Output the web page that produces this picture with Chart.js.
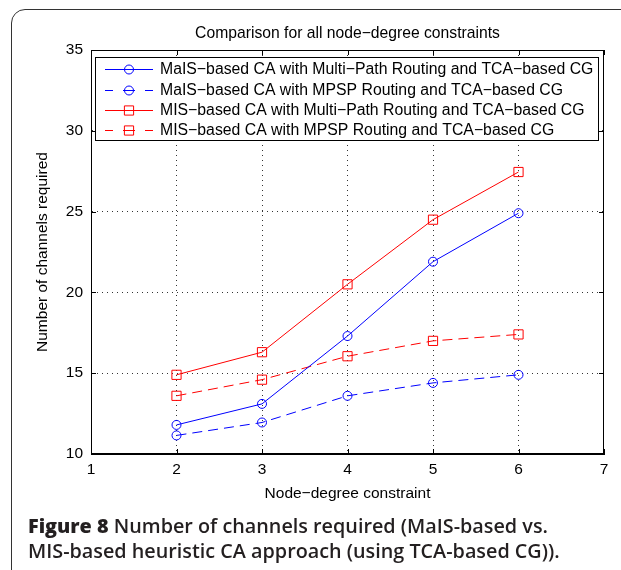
<!DOCTYPE html>
<html><head><meta charset="utf-8">
<script src="https://cdn.jsdelivr.net/npm/chart.js@4.4.0/dist/chart.umd.min.js"></script>
<style>
html,body{margin:0;padding:0;background:#fff;width:621px;height:570px;overflow:hidden;}
#frame{position:absolute;left:11px;top:9px;width:700px;height:580px;border:1.5px solid #333;border-radius:14px;box-sizing:border-box;}
#wrap{position:absolute;left:0;top:0;width:621px;height:570px;}
#caption{position:absolute;left:28px;top:513px;font-family:"Open Sans",sans-serif;font-size:19.8px;font-weight:600;line-height:25px;color:#231f20;white-space:nowrap;}
#caption b{font-weight:800;}
</style></head>
<body>
<div id="frame"></div>
<div id="wrap"><canvas id="c" width="621" height="570"></canvas></div>
<div id="caption"><b>Figure 8</b> Number of channels required (MaIS-based vs.<br>MIS-based heuristic CA approach (using TCA-based CG)).</div>
<script>
// ---- data ----
const nodeDegrees = [2, 3, 4, 5, 6];
const maisMultiPath = [11.8, 13.1, 17.3, 21.9, 24.9];
const maisMpsp = [11.15, 11.95, 13.6, 14.4, 14.9];
const misMultiPath = [14.9, 16.3, 20.5, 24.5, 27.45];
const misMpsp = [13.6, 14.6, 16.05, 17.0, 17.4];
const seriesLabels = [
  'MaIS\u2212based CA with Multi\u2212Path Routing and TCA\u2212based CG',
  'MaIS\u2212based CA with MPSP Routing and TCA\u2212based CG',
  'MIS\u2212based CA with Multi\u2212Path Routing and TCA\u2212based CG',
  'MIS\u2212based CA with MPSP Routing and TCA\u2212based CG'
];
const xTicks = [1, 2, 3, 4, 5, 6, 7];
const yTicks = [10, 15, 20, 25, 30, 35];
const chartTitle = 'Comparison for all node\u2212degree constraints';
const xTitle = 'Node\u2212degree constraint';
const yTitle = 'Number of channels required';

const FONT = '"Liberation Sans", Arial, Helvetica, sans-serif';
const pts = arr => nodeDegrees.map((x, i) => ({x, y: arr[i]}));
const DASH = [10, 6];

function mkDs(label, data, color, dashed, square) {
  return {
    label, data: pts(data),
    borderColor: color, backgroundColor: 'rgba(0,0,0,0)',
    borderWidth: 1, borderDash: dashed ? DASH : [],
    pointStyle: square ? 'rect' : 'circle',
    pointRadius: square ? 6.5 : 4.5,
    pointBorderWidth: 1, pointBorderColor: color, pointBackgroundColor: 'rgba(0,0,0,0)',
    tension: 0, fill: false
  };
}

const frameAndLegend = {
  id: 'frameAndLegend',
  afterDatasetsDraw(chart) {
    const ctx = chart.ctx, ca = chart.chartArea;
    const xs = chart.scales.x, ys = chart.scales.y;
    ctx.save();
    // title centred over the axes
    ctx.fillStyle = '#000'; ctx.font = '15.7px ' + FONT;
    ctx.textAlign = 'center'; ctx.textBaseline = 'alphabetic';
    ctx.fillText(chartTitle, (ca.left + ca.right) / 2, 38);
    // full axes box
    ctx.strokeStyle = '#000'; ctx.lineWidth = 1;
    ctx.strokeRect(Math.round(ca.left) + 0.5, Math.round(ca.top) + 0.5,
      Math.round(ca.right - ca.left) - 1, Math.round(ca.bottom - ca.top) - 1);
    // inward ticks
    ctx.beginPath();
    xTicks.forEach(v => {
      const px = Math.round(xs.getPixelForValue(v)) + 0.5;
      ctx.moveTo(px, ca.bottom); ctx.lineTo(px, ca.bottom - 5);
      ctx.moveTo(px, ca.top); ctx.lineTo(px, ca.top + 5);
    });
    yTicks.forEach(v => {
      const py = Math.round(ys.getPixelForValue(v)) + 0.5;
      ctx.moveTo(ca.left, py); ctx.lineTo(ca.left + 5, py);
      ctx.moveTo(ca.right, py); ctx.lineTo(ca.right - 5, py);
    });
    ctx.stroke();

    // legend
    const ds = chart.data.datasets;
    ctx.font = '15.8px ' + FONT;
    let maxW = 0;
    ds.forEach(d => { maxW = Math.max(maxW, ctx.measureText(d.label).width); });
    const left = Math.round(ca.left) + 4, top = Math.round(ca.top) + 7, rowH = 20.3;
    const textX = left + 65;
    const w = Math.round(textX + maxW + 5 - left), h = Math.round(rowH * ds.length + 2);
    ctx.fillStyle = '#fff'; ctx.fillRect(left, top, w, h);
    ctx.strokeStyle = '#000'; ctx.lineWidth = 1;
    ctx.strokeRect(left + 0.5, top + 0.5, w, h);
    ds.forEach((d, i) => {
      const y = Math.round(top + 12.3 + i * rowH) + 0.5;
      ctx.save();
      ctx.strokeStyle = d.borderColor; ctx.lineWidth = 1;
      ctx.setLineDash(d.borderDash.length ? [8, 10, 12, 10] : []);
      ctx.beginPath(); ctx.moveTo(left + 10, y); ctx.lineTo(left + 58, y); ctx.stroke();
      ctx.setLineDash([]);
      ctx.fillStyle = 'rgba(0,0,0,0)';
      Chart.helpers.drawPoint(ctx, {pointStyle: d.pointStyle, radius: d.pointRadius, borderWidth: 1, rotation: 0}, left + 34, y);
      ctx.restore();
      ctx.fillStyle = '#000'; ctx.textBaseline = 'middle'; ctx.textAlign = 'left';
      ctx.fillText(d.label, textX, y);
    });
    ctx.restore();
  }
};

const gridColor = edgeVals => c => (edgeVals.includes(c.tick && c.tick.value) ? 'rgba(0,0,0,0)' : '#333');

new Chart(document.getElementById('c'), {
  type: 'line',
  data: {
    datasets: [
      mkDs(seriesLabels[0], maisMultiPath, '#0000ff', false, false),
      mkDs(seriesLabels[1], maisMpsp, '#0000ff', true, false),
      mkDs(seriesLabels[2], misMultiPath, '#ff0000', false, true),
      mkDs(seriesLabels[3], misMpsp, '#ff0000', true, true)
    ]
  },
  options: {
    responsive: false, animation: false, devicePixelRatio: 1,
    layout: {padding: {left: 0, right: 17, top: 50, bottom: 66}},
    plugins: {
      legend: {display: false}, tooltip: {enabled: false}, title: {display: false}
    },
    scales: {
      x: {
        type: 'linear', min: 1, max: 7,
        afterBuildTicks: s => { s.ticks = xTicks.map(v => ({value: v})); },
        afterFit: s => { s.height = 50; },
        ticks: {color: '#000', padding: 6, font: {family: FONT, size: 15.5}, maxRotation: 0},
        grid: {color: gridColor([1, 7]), lineWidth: 1, drawTicks: false},
        border: {display: true, color: '#000', width: 1, dash: [1, 4]},
        title: {display: true, text: xTitle, color: '#000', font: {family: FONT, size: 15.5, lineHeight: 1.2}, padding: {top: 0, bottom: 0.7}}
      },
      y: {
        type: 'linear', min: 10, max: 35,
        afterBuildTicks: s => { s.ticks = yTicks.map(v => ({value: v})); },
        afterFit: s => { s.width = 91; },
        ticks: {color: '#000', padding: 8, font: {family: FONT, size: 15.5}},
        grid: {color: gridColor([10, 35]), lineWidth: 1, drawTicks: false},
        border: {display: true, color: '#000', width: 1, dash: [1, 4]},
        title: {display: true, text: yTitle, color: '#000', font: {family: FONT, size: 15.5, lineHeight: 1.2}, padding: {top: 33.7, bottom: 0}}
      }
    }
  },
  plugins: [frameAndLegend]
});
</script>
</body></html>
